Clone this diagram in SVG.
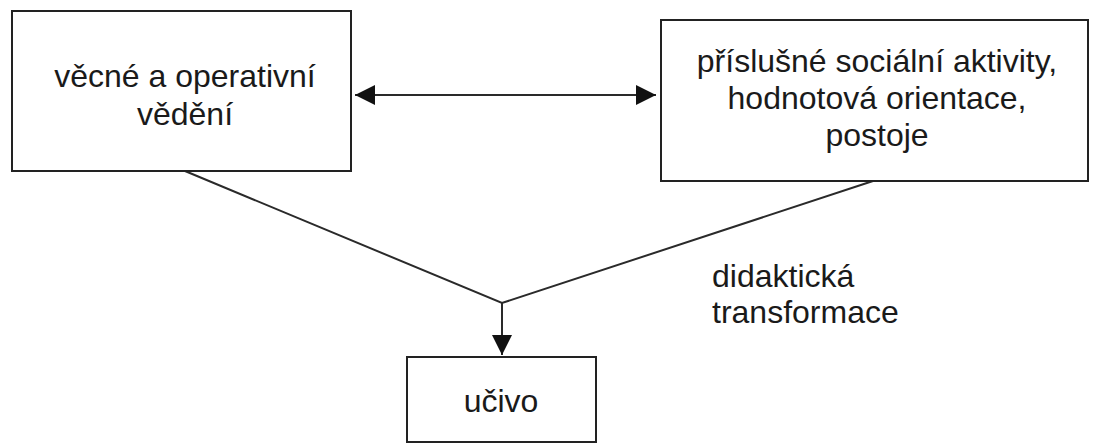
<svg xmlns="http://www.w3.org/2000/svg" width="1093" height="445" viewBox="0 0 1093 445">
<style>
.box{fill:#fff;stroke:#222;stroke-width:2}
.t{font-family:"Liberation Sans",Arial,sans-serif;font-size:32px;fill:#1a1a1a}
.c{text-anchor:middle}
.ln{stroke:#2a2a2a;stroke-width:2;fill:none}
</style>
<defs>
<marker id="ah" viewBox="0 0 20 20" refX="20" refY="10" markerWidth="20" markerHeight="20" markerUnits="userSpaceOnUse" orient="auto-start-reverse">
<path d="M0,0 L20,10 L0,20 Z" fill="#111"/>
</marker>
</defs>
<rect width="1093" height="445" fill="#fff"/>
<g id="connectors">
<line class="ln" x1="355" y1="95" x2="656" y2="95" marker-start="url(#ah)" marker-end="url(#ah)"/>
<polyline class="ln" points="185,171 502,303 873,181"/>
<line class="ln" x1="502" y1="303" x2="502" y2="355" marker-end="url(#ah)"/>
</g>
<g id="node-vedeni">
<rect class="box" x="12" y="11" width="339" height="160"/>
<text class="t c" x="185" y="87">věcné a operativní</text>
<text class="t c" x="185" y="125">vědění</text>
</g>
<g id="node-aktivity">
<rect class="box" x="661" y="20" width="427" height="161"/>
<text class="t c" x="877" y="72">příslušné sociální aktivity,</text>
<text class="t c" x="877" y="109">hodnotová orientace,</text>
<text class="t c" x="877" y="146">postoje</text>
</g>
<g id="label-transformace">
<text class="t" x="712" y="287">didaktická</text>
<text class="t" x="712" y="323">transformace</text>
</g>
<g id="node-ucivo">
<rect class="box" x="407" y="357" width="189" height="85"/>
<text class="t c" x="501" y="412">učivo</text>
</g>
</svg>
